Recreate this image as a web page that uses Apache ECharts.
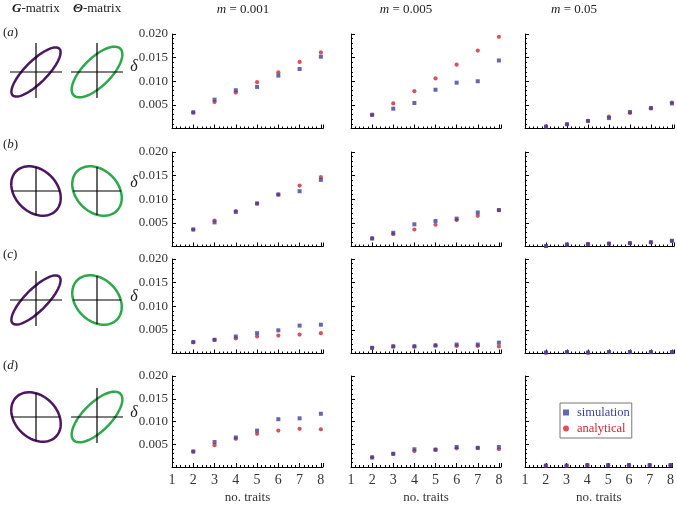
<!DOCTYPE html>
<html><head><meta charset="utf-8">
<script src="https://cdn.jsdelivr.net/npm/echarts@6/dist/echarts.min.js"></script>
<style>html,body{margin:0;padding:0;background:#fff}#c{width:677px;height:505px}</style>
</head><body><div id="c"></div><script>
// ---- data ----
const traits = [2, 3, 4, 5, 6, 7, 8];
const rowLabels = ['(a)', '(b)', '(c)', '(d)'];
const migrationRates = ['0.001', '0.005', '0.05'];
const xTickLabels = ['1', '2', '3', '4', '5', '6', '7', '8'];
const yTickLabels = ['0.005', '0.010', '0.015', '0.020'];

const sim_a_001 = [0.0034, 0.0061, 0.0081, 0.0088, 0.0112, 0.0126, 0.0152];
const ana_a_001 = [0.0034, 0.0056, 0.0076, 0.0098, 0.0119, 0.0141, 0.0161];
const sim_a_005 = [0.0029, 0.0042, 0.0054, 0.0082, 0.0097, 0.0100, 0.0144];
const ana_a_005 = [0.0029, 0.0053, 0.0079, 0.0106, 0.0135, 0.0165, 0.0194];
const sim_a_05  = [0.0004, 0.0009, 0.0016, 0.0022, 0.0035, 0.0043, 0.0053];
const ana_a_05  = [0.0004, 0.0009, 0.0016, 0.0025, 0.0033, 0.0043, 0.0055];

const sim_b_001 = [0.0036, 0.0051, 0.0073, 0.0091, 0.0110, 0.0117, 0.0141];
const ana_b_001 = [0.0036, 0.0055, 0.0075, 0.0091, 0.0110, 0.0129, 0.0147];
const sim_b_005 = [0.0017, 0.0029, 0.0047, 0.0054, 0.0059, 0.0072, 0.0077];
const ana_b_005 = [0.0017, 0.0026, 0.0036, 0.0046, 0.0056, 0.0065, 0.0077];
const sim_b_05  = [0.0001, 0.0004, 0.0005, 0.0006, 0.0007, 0.0009, 0.0012];
const ana_b_05  = [0.0001, 0.0004, 0.0005, 0.0006, 0.0007, 0.0009, 0.0012];

const sim_c_001 = [0.0024, 0.0029, 0.0036, 0.0043, 0.0049, 0.0059, 0.0061];
const ana_c_001 = [0.0024, 0.0029, 0.0032, 0.0036, 0.0038, 0.0040, 0.0043];
const sim_c_005 = [0.0012, 0.0015, 0.0015, 0.0017, 0.0019, 0.0019, 0.0023];
const ana_c_005 = [0.0012, 0.0015, 0.0015, 0.0017, 0.0016, 0.0016, 0.0015];
const sim_c_05  = [0.0002, 0.0003, 0.0002, 0.0003, 0.0003, 0.0003, 0.0003];
const ana_c_05  = [0.0002, 0.0003, 0.0002, 0.0003, 0.0003, 0.0003, 0.0003];

const sim_d_001 = [0.0034, 0.0055, 0.0065, 0.0080, 0.0105, 0.0107, 0.0117];
const ana_d_001 = [0.0034, 0.0048, 0.0062, 0.0073, 0.0080, 0.0084, 0.0083];
const sim_d_005 = [0.0021, 0.0029, 0.0039, 0.0038, 0.0044, 0.0042, 0.0044];
const ana_d_005 = [0.0021, 0.0029, 0.0035, 0.0038, 0.0041, 0.0042, 0.0039];
const sim_d_05  = [0.0003, 0.0003, 0.0004, 0.0004, 0.0004, 0.0004, 0.0004];
const ana_d_05  = [0.0003, 0.0003, 0.0004, 0.0004, 0.0004, 0.0004, 0.0004];

const simulation = [
  [sim_a_001, sim_a_005, sim_a_05],
  [sim_b_001, sim_b_005, sim_b_05],
  [sim_c_001, sim_c_005, sim_c_05],
  [sim_d_001, sim_d_005, sim_d_05]
];
const analytical = [
  [ana_a_001, ana_a_005, ana_a_05],
  [ana_b_001, ana_b_005, ana_b_05],
  [ana_c_001, ana_c_005, ana_c_05],
  [ana_d_001, ana_d_005, ana_d_05]
];

// ---- layout / style ----
const SERIF = 'Liberation Serif';
const BLUE = '#3f3fa0';
const RED = '#d1272f';
const colLeft = [172, 351, 525];
const colWidth = [151, 150, 149];
const rowTop = [34, 152, 259, 376];
const rowHeight = 94.5;

const grids = [], xAxes = [], yAxes = [], series = [], graphics = [];
let gi = 0;
const anaSeries = [], simSeries = [];
for (let r = 0; r < 4; r++) {
  for (let c = 0; c < 3; c++) {
    grids.push({left: colLeft[c], top: rowTop[r], width: colWidth[c], height: rowHeight});
    const bottomRow = r === 3;
    xAxes.push({
      type: 'value', gridIndex: gi, min: 1, max: 8.1, interval: 1,
      axisLine: {show: true, onZero: false, lineStyle: {color: '#000', width: 1}},
      axisTick: {show: true, inside: true, length: 4, lineStyle: {color: '#000'}},
      minorTick: {show: true, splitNumber: 5, length: 2, lineStyle: {color: '#000'}},
      splitLine: {show: false}, minorSplitLine: {show: false},
      axisLabel: {show: bottomRow, margin: 6, fontFamily: SERIF, fontSize: 14, color: '#333',
        formatter: v => { const i = Math.round(v); return Math.abs(v - i) < 1e-6 ? (xTickLabels[i - 1] || '') : ''; }},
      name: bottomRow ? 'no. traits' : '', nameLocation: 'middle', nameGap: 24,
      nameTextStyle: {fontFamily: SERIF, fontSize: 13, color: '#333'}
    });
    yAxes.push({
      type: 'value', gridIndex: gi, min: 0, max: 0.02, interval: 0.005,
      axisLine: {show: true, onZero: false, lineStyle: {color: '#000', width: 1}},
      axisTick: {show: true, inside: true, length: 4, lineStyle: {color: '#000'}},
      minorTick: {show: true, splitNumber: 5, length: 2, lineStyle: {color: '#000'}},
      splitLine: {show: false}, minorSplitLine: {show: false},
      axisLabel: {show: c === 0, margin: 4, fontFamily: SERIF, fontSize: 13, color: '#333',
        formatter: v => { const k = Math.round(v / 0.005); return (k >= 1 && Math.abs(v - k * 0.005) < 1e-9) ? yTickLabels[k - 1] : ''; }}
    });
    anaSeries.push({
      type: 'scatter', name: 'analytical', xAxisIndex: gi, yAxisIndex: gi,
      symbol: 'circle', symbolSize: 4.2, itemStyle: {color: RED}, silent: true,
      data: traits.map((t, i) => [t, analytical[r][c][i]])
    });
    simSeries.push({
      type: 'scatter', name: 'simulation', xAxisIndex: gi, yAxisIndex: gi,
      symbol: 'rect', symbolSize: 4, itemStyle: {color: BLUE}, silent: true,
      data: traits.map((t, i) => [t, simulation[r][c][i]])
    });
    gi++;
  }
}
series.push(...anaSeries, ...simSeries);

// ---- decorative matrix icons ----
function ellipsePts(cx, cy, a, b, dir) {
  // dir: +1 major axis bottom-left -> top-right, -1 top-left -> bottom-right
  const ux = Math.SQRT1_2, uy = -Math.SQRT1_2 * dir;
  const vx = Math.SQRT1_2 * dir, vy = Math.SQRT1_2;
  const pts = [];
  for (let k = 0; k < 72; k++) {
    const t = k / 72 * 2 * Math.PI;
    pts.push([cx + a * Math.cos(t) * ux + b * Math.sin(t) * vx, cy + a * Math.cos(t) * uy + b * Math.sin(t) * vy]);
  }
  return pts;
}
const iconRows = [
  {cy: 72, g: [33, 11, 1], t: [33, 14, 1]},
  {cy: 191, g: [28, 21, -1], t: [28, 21, -1]},
  {cy: 300, g: [33, 11, 1], t: [28, 21, -1]},
  {cy: 417, g: [28, 21, -1], t: [33, 14, 1]}
];
const iconCx = [36, 97];
const iconColor = ['#4d1862', '#2ea84b'];
iconRows.forEach(ir => {
  [ir.g, ir.t].forEach((p, k) => {
    const cx = iconCx[k], cy = ir.cy;
    graphics.push({type: 'polygon', shape: {points: ellipsePts(cx, cy, p[0], p[1], p[2])},
      style: {fill: 'none', stroke: iconColor[k], lineWidth: 2.5}, silent: true});
    const h = p[2] === 1 ? 26 : 24;
    graphics.push({type: 'line', shape: {x1: cx - h, y1: cy, x2: cx + h, y2: cy}, style: {stroke: '#000', lineWidth: 1.2}, silent: true});
    graphics.push({type: 'line', shape: {x1: cx, y1: cy - h - (p[2] === 1 ? 3 : 0), x2: cx, y2: cy + h}, style: {stroke: '#000', lineWidth: 1.2}, silent: true});
  });
});

// headers
graphics.push({type: 'text', left: 12, top: 2, silent: true, style: {
  text: '{b|G}-matrix', fontFamily: SERIF, fontSize: 13, fill: '#222',
  rich: {b: {fontFamily: SERIF, fontSize: 13, fontWeight: 'bold', fontStyle: 'italic', fill: '#222'}}}});
graphics.push({type: 'text', left: 73, top: 2, silent: true, style: {
  text: '{b|Θ}-matrix', fontFamily: SERIF, fontSize: 13, fill: '#222',
  rich: {b: {fontFamily: SERIF, fontSize: 13, fontWeight: 'bold', fontStyle: 'italic', fill: '#222'}}}});
const headerCx = [243, 406, 574];
migrationRates.forEach((m, c) => {
  graphics.push({type: 'text', x: headerCx[c], y: 10, silent: true, style: {
    text: '{i|m} = ' + m, fontFamily: SERIF, fontSize: 13, fill: '#222', align: 'center', verticalAlign: 'middle',
    rich: {i: {fontFamily: SERIF, fontSize: 13, fontStyle: 'italic', fill: '#222'}}}});
});
const rowLabelY = [33, 145, 255, 366];
rowLabels.forEach((lab, r) => {
  graphics.push({type: 'text', x: 3, y: rowLabelY[r], silent: true, style: {
    text: '(' + '{i|' + lab[1] + '})', fontFamily: SERIF, fontSize: 13, fill: '#222', verticalAlign: 'middle',
    rich: {i: {fontFamily: SERIF, fontSize: 13, fontStyle: 'italic', fill: '#222'}}}});
});
const deltaY = [67, 183, 297, 413];
deltaY.forEach(y => {
  graphics.push({type: 'text', x: 134, y: y, silent: true, style: {
    text: 'δ', fontFamily: SERIF, fontSize: 16, fontStyle: 'italic', fill: '#222', align: 'center', verticalAlign: 'middle'}});
});

const chart = echarts.init(document.getElementById('c'), null, {renderer: 'canvas'});
chart.setOption({
  animation: false,
  backgroundColor: '#fff',
  grid: grids, xAxis: xAxes, yAxis: yAxes, series: series, graphic: graphics,
  legend: {
    left: 560, top: 403, orient: 'vertical', selectedMode: false,
    data: [
      {name: 'simulation', icon: 'rect', textStyle: {color: BLUE}},
      {name: 'analytical', icon: 'circle', textStyle: {color: RED}}
    ],
    itemWidth: 6, itemHeight: 6, itemGap: 3, padding: [3, 2, 3, 3],
    borderColor: '#777', borderWidth: 1, backgroundColor: '#fff',
    textStyle: {fontFamily: SERIF, fontSize: 12.5, padding: [0, 0, 0, 3]}
  }
});
</script></body></html>
